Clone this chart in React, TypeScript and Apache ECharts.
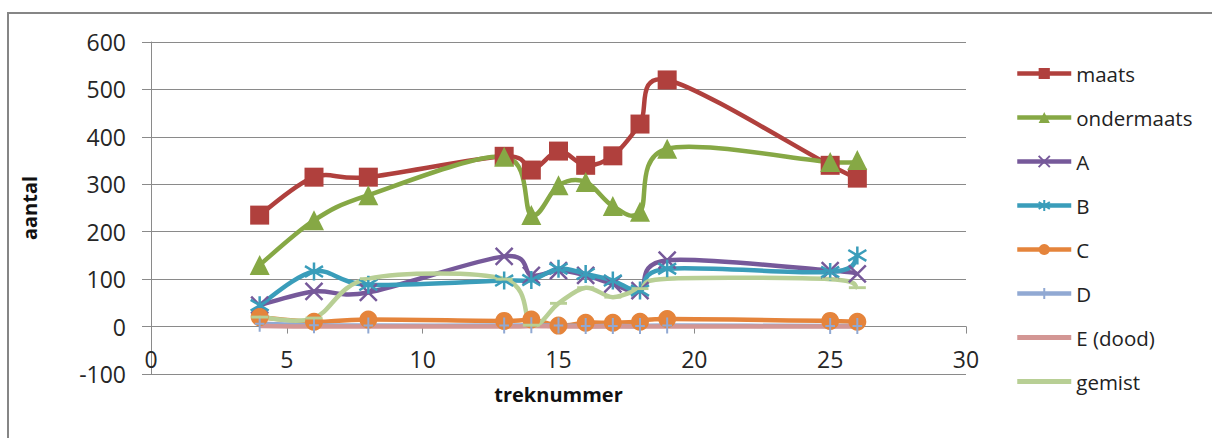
import React, { useEffect, useRef } from "react";
import * as echarts from "echarts";

// Trek numbers (x values)
const treknummer = [4, 6, 8, 13, 14, 15, 16, 17, 18, 19, 25, 26];

// Counts per category
const maats = [235, 315, 315, 359, 330, 370, 340, 360, 427, 520, 340, 313];
const ondermaats = [130, 224, 277, 358, 235, 298, 305, 254, 242, 375, 347, 351];
const catA = [45, 74, 72, 148, 108, 118, 108, 90, 76, 140, 118, 111];
const catB = [45, 116, 88, 97, 98, 122, 111, 97, 76, 122, 115, 150];
const catC = [20, 10, 15, 12, 15, 2, 8, 8, 10, 16, 12, 10];
const catD = [6, 3, 2, 2, 3, 2, 1, 1, 1, 2, 1, 1];
const catE = [1, 0, 0, 0, 1, 0, 0, 0, 0, 0, 0, 0];
const gemist = [20, 18, 101, 100, 3, 49, 82, 62, 80, 101, 100, 82];

// Axis tick settings
const yMin = -100;
const yMax = 600;
const yStep = 100;
const xMin = 0;
const xMax = 30;
const xStep = 5;

const FONT = "'Open Sans', 'DejaVu Sans', sans-serif";
const GRAY = "#8a8a8a";
const LINE_W = 4.5;

// plot area
const GRID = { left: 151, right: 246, top: 42, bottom: 64 };
const CHART_H = 438;
const plotH = CHART_H - GRID.top - GRID.bottom;
// lift the x axis from the bottom edge up to the zero line
const xAxisOffset = -(plotH * (0 - yMin)) / (yMax - yMin);

const X_MARK = "path://M0,0L20,20M20,0L0,20";
const STAR_MARK = "path://M10,0L10,20M0,4L20,16M0,16L20,4";
const PLUS_MARK = "path://M10,0L10,20M4,10L16,10";
const DASH_MARK = "path://M0,0H17V7H0Z";
const BAR_ICON = "path://M0,0H53V5H0Z";

type SeriesDef = {
  name: string;
  values: number[];
  color: string;
  symbol: string;
  size: number | number[];
  border?: number;
  plainLegend?: boolean;
};

const seriesDefs: SeriesDef[] = [
  { name: "maats", values: maats, color: "#b0403d", symbol: "rect", size: 19 },
  { name: "ondermaats", values: ondermaats, color: "#86a845", symbol: "triangle", size: 20 },
  { name: "A", values: catA, color: "#76599a", symbol: X_MARK, size: 17, border: 2.5 },
  { name: "B", values: catB, color: "#3a9dba", symbol: STAR_MARK, size: 18, border: 2.5 },
  { name: "C", values: catC, color: "#e5843b", symbol: "circle", size: 18 },
  { name: "D", values: catD, color: "#91a9d3", symbol: PLUS_MARK, size: 16, border: 2 },
  { name: "E (dood)", values: catE, color: "#d39694", symbol: "none", size: 0, plainLegend: true },
  { name: "gemist", values: gemist, color: "#b8cf95", symbol: DASH_MARK, size: [17, 7], plainLegend: true },
];

// Smooth curve through pixel points: cubic Bezier segments whose
// control points follow the neighbouring points (Catmull-Rom style).
function smoothPath(pts: number[][]): string {
  const k = 1 / 6;
  let d = `M${pts[0][0]},${pts[0][1]}`;
  for (let i = 0; i < pts.length - 1; i++) {
    const p0 = pts[i - 1] || pts[i];
    const p1 = pts[i];
    const p2 = pts[i + 1];
    const p3 = pts[i + 2] || pts[i + 1];
    const c1x = p1[0] + (p2[0] - p0[0]) * k;
    const c1y = p1[1] + (p2[1] - p0[1]) * k;
    const c2x = p2[0] - (p3[0] - p1[0]) * k;
    const c2y = p2[1] - (p3[1] - p1[1]) * k;
    d += `C${c1x},${c1y},${c2x},${c2y},${p2[0]},${p2[1]}`;
  }
  return d;
}

export default function App() {
  const ref = useRef<HTMLDivElement>(null);

  useEffect(() => {
    if (!ref.current) return;
    const chart = echarts.init(ref.current, null, { renderer: "svg" });

    const series: any[] = [];
    seriesDefs.forEach((s) => {
      // curve through the series' points, placed by the axes
      series.push({
        name: s.name + " curve",
        type: "custom",
        data: [[treknummer[0], s.values[0]]],
        silent: true,
        renderItem: (_params: any, api: any) => {
          const pts = treknummer.map((x, i) => api.coord([x, s.values[i]]));
          return {
            type: "path",
            shape: { pathData: smoothPath(pts) },
            style: {
              fill: "none",
              stroke: s.color,
              lineWidth: LINE_W,
              lineJoin: "round",
              lineCap: "butt",
            },
          };
        },
      });
      // markers of the series
      series.push({
        name: s.name,
        type: "line",
        data: treknummer.map((x, i) => [x, s.values[i]]),
        symbol: s.symbol,
        symbolSize: s.size,
        symbolKeepAspect: true,
        showSymbol: s.symbol !== "none",
        lineStyle: { color: s.color, width: LINE_W, opacity: 0 },
        itemStyle: {
          color: s.color,
          borderColor: s.color,
          borderWidth: s.border ?? 0,
        },
        emphasis: { disabled: true },
      });
    });

    chart.setOption({
      animation: false,
      backgroundColor: "#ffffff",
      graphic: [
        {
          type: "rect",
          shape: { x: 8, y: 13, width: 1400, height: 600 },
          style: { fill: "none", stroke: "#868686", lineWidth: 2 },
          silent: true,
          z: -10,
        },
      ],
      grid: {
        ...GRID,
        containLabel: false,
        outerBoundsMode: "none",
      },
      legend: {
        orient: "vertical",
        left: 1015,
        top: 63,
        padding: 0,
        itemWidth: 54,
        itemHeight: 14,
        itemGap: 23,
        symbolKeepAspect: true,
        lineStyle: { width: LINE_W, opacity: 1 },
        textStyle: {
          fontFamily: FONT,
          fontSize: 20.5,
          lineHeight: 20,
          color: "#222",
        },
        data: seriesDefs.map((s) =>
          s.plainLegend ? { name: s.name, icon: BAR_ICON } : { name: s.name }
        ),
      },
      xAxis: {
        type: "value",
        min: xMin,
        max: xMax,
        interval: xStep,
        offset: xAxisOffset,
        name: "treknummer",
        nameLocation: "middle",
        nameGap: 58,
        nameTextStyle: { fontFamily: FONT, fontSize: 20, fontWeight: "bold", color: "#111" },
        axisLine: { onZero: false, lineStyle: { color: GRAY, width: 1 } },
        axisTick: { show: true, length: 7, lineStyle: { color: GRAY } },
        axisLabel: { fontFamily: FONT, fontSize: 23, color: "#262626", margin: 21 },
        splitLine: { show: false },
      },
      yAxis: {
        type: "value",
        min: yMin,
        max: yMax,
        interval: yStep,
        name: "aantal",
        nameLocation: "middle",
        nameGap: 112,
        nameRotate: 90,
        nameTextStyle: { fontFamily: FONT, fontSize: 20, fontWeight: "bold", color: "#111" },
        axisLine: { show: true, onZero: false, lineStyle: { color: GRAY, width: 1 } },
        axisTick: { show: true, length: 9, lineStyle: { color: GRAY } },
        axisLabel: { fontFamily: FONT, fontSize: 23, color: "#262626", margin: 25 },
        splitLine: { show: true, lineStyle: { color: GRAY, width: 1 } },
      },
      series,
    });

    return () => chart.dispose();
  }, []);

  return (
    <div
      ref={ref}
      style={{ position: "absolute", left: 0, top: 0, width: 1212, height: CHART_H }}
    />
  );
}
